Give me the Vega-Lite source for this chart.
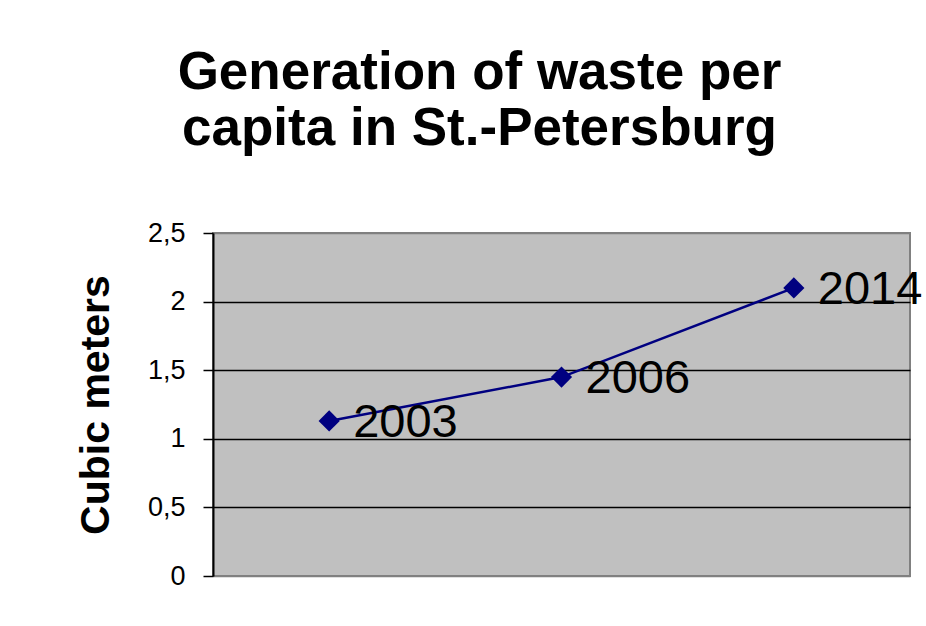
{
  "$schema": "https://vega.github.io/schema/vega-lite/v6.json",
  "autosize": "none",
  "padding": {"left": 213, "top": 233, "right": 16, "bottom": 50},
  "width": 697,
  "height": 343,
  "background": "white",
  "title": {
    "text": ["Generation of waste per", "capita in St.-Petersburg"],
    "font": "Liberation Sans",
    "fontSize": 53,
    "fontWeight": "bold",
    "color": "black",
    "anchor": "middle",
    "frame": "group",
    "dx": -82,
    "lineHeight": 56,
    "offset": 63
  },
  "config": {
    "view": {"fill": "#C0C0C0", "stroke": "#808080", "strokeWidth": 2}
  },
  "data": {
    "values": [
      {"year": "2003", "value": 1.13},
      {"year": "2006", "value": 1.45},
      {"year": "2014", "value": 2.1}
    ]
  },
  "encoding": {
    "x": {"field": "year", "type": "ordinal", "scale": {"type": "point", "padding": 0.5}, "axis": null},
    "y": {
      "field": "value",
      "type": "quantitative",
      "scale": {"domain": [0, 2.5], "nice": false, "zero": true},
      "axis": {
        "title": "Cubic meters",
        "titleFont": "Liberation Sans",
        "titleFontSize": 41,
        "titleFontWeight": "bold",
        "titleColor": "black",
        "titlePadding": 30,
        "values": [0, 0.5, 1, 1.5, 2, 2.5],
        "labelExpr": "replace(toString(datum.value), '.', ',')",
        "labelFont": "Liberation Sans",
        "labelFontSize": 27,
        "labelColor": "black",
        "labelPadding": 18,
        "tickSize": 10,
        "tickColor": "black",
        "tickWidth": 1.5,
        "domainColor": "black",
        "domainWidth": 2,
        "grid": true,
        "gridColor": {"condition": {"test": "datum.value == 0 || datum.value == 2.5", "value": "#808080"}, "value": "black"},
        "gridWidth": 1.5,
        "gridOpacity": 1
      }
    }
  },
  "layer": [
    {"mark": {"type": "line", "color": "#000080", "strokeWidth": 2.5}},
    {"mark": {"type": "point", "shape": "diamond", "filled": true, "color": "#000080", "size": 450, "opacity": 1}},
    {
      "mark": {"type": "text", "align": "left", "baseline": "alphabetic", "dx": 24, "dy": 16, "font": "Liberation Sans", "fontSize": 47, "color": "black"},
      "encoding": {"text": {"field": "year"}}
    }
  ]
}
